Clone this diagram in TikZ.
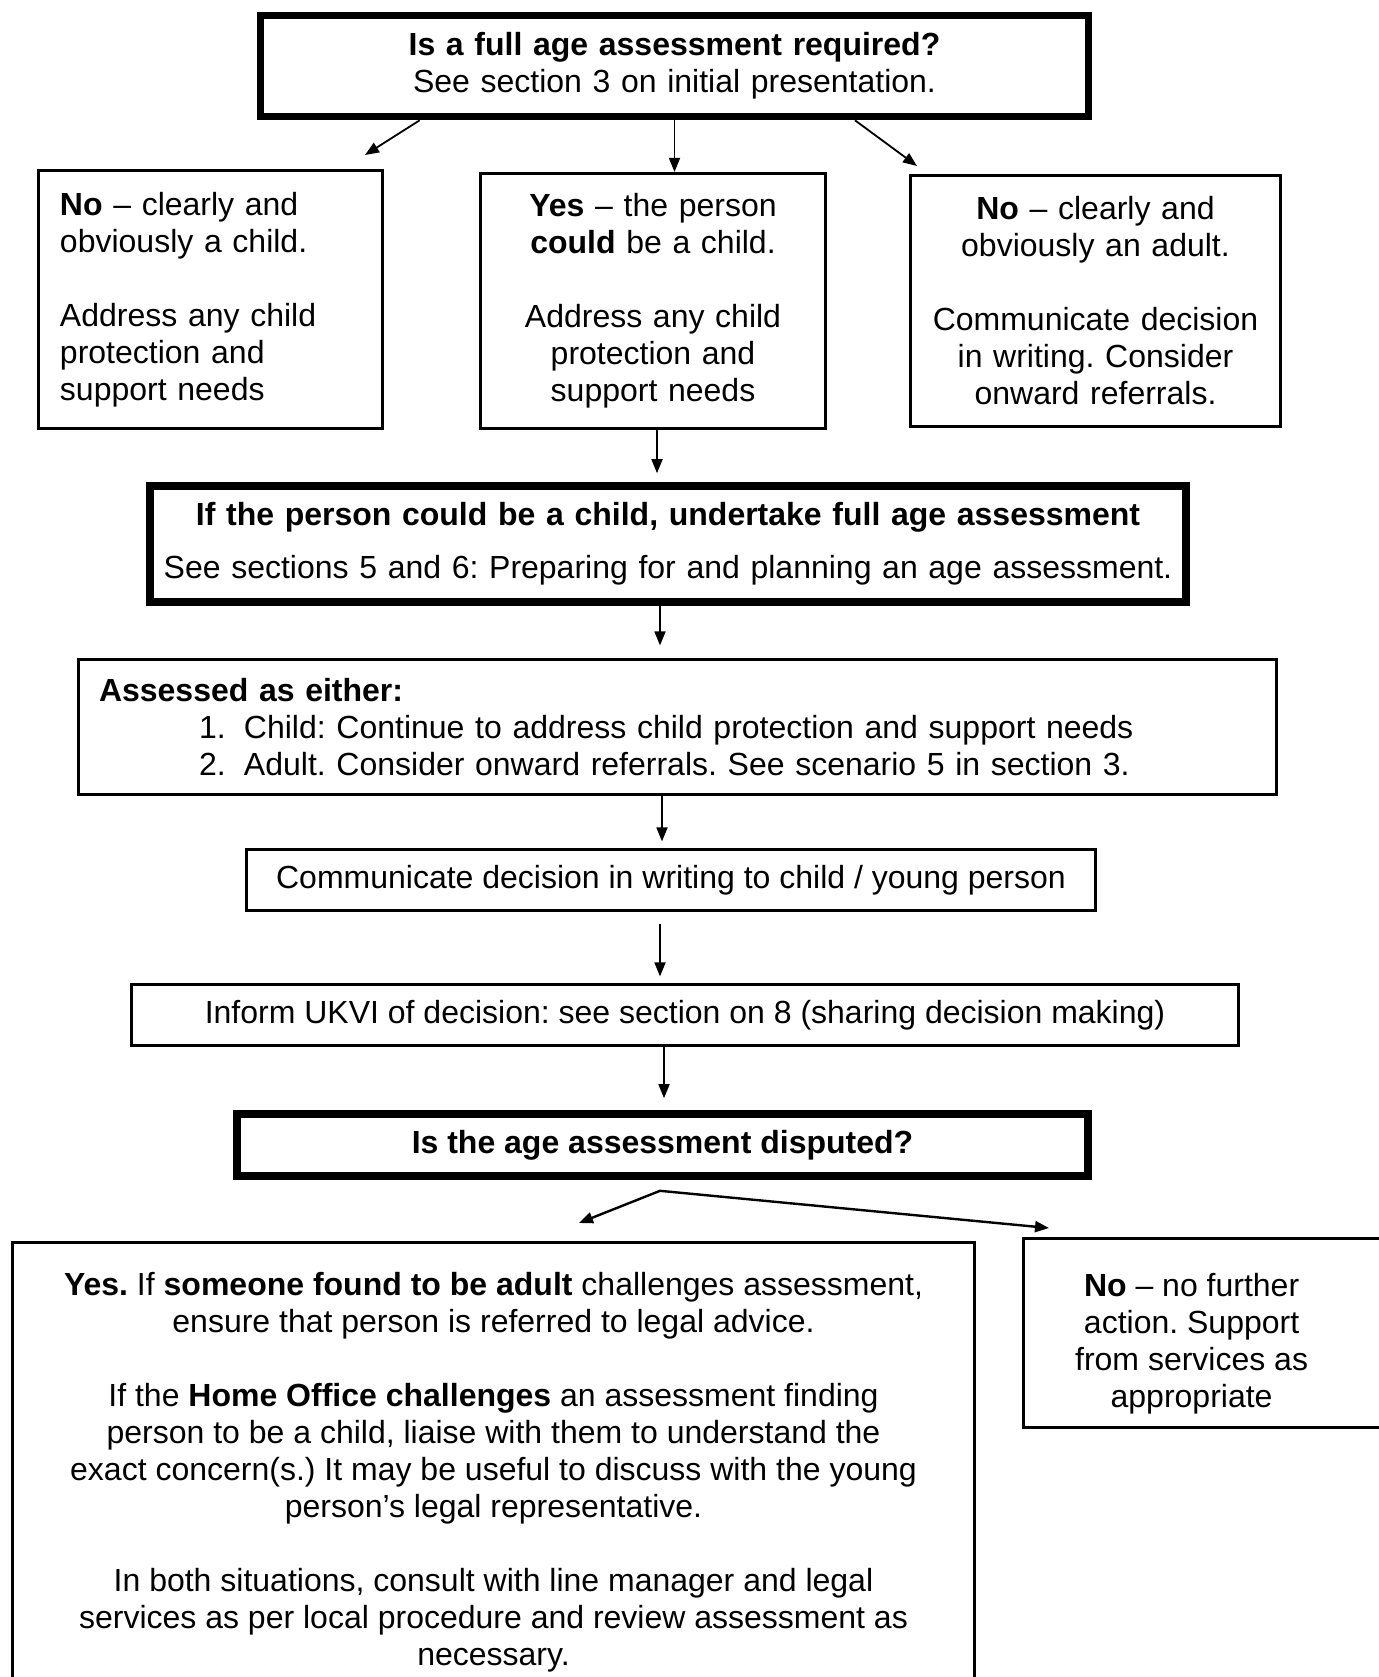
\documentclass[tikz,border=0pt]{standalone}
\usepackage{fontspec}
\setmainfont{Liberation Sans}
\usetikzlibrary{arrows.meta,calc}
\frenchspacing
\begin{document}
\begin{tikzpicture}[x=0.5pt,y=-0.5pt,
  boxthin/.style={draw, line width=1.6pt, inner sep=0pt, font=\fontsize{16pt}{18.5pt}\selectfont\frenchspacing},
  boxthick/.style={draw, line width=3.8pt, inner sep=0pt, font=\fontsize{16pt}{18.5pt}\selectfont\frenchspacing},
  arr/.style={line width=0.9pt, -{Triangle[length=7pt,width=5.5pt]}},
  forkline/.style={line width=1.2pt, {Triangle[length=7pt,width=5.5pt]}-{Triangle[length=7pt,width=5.5pt]}}
]
\useasboundingbox (0,0) rectangle (1379,1677);
\clip (0,0) rectangle (1379,1677);

% top question
\node[boxthick, minimum width=414pt, minimum height=50.5pt, text width=404pt, align=center] (t) at (674.5,66)
  {\textbf{Is a full age assessment required?}\\See section 3 on initial presentation.};

% three outcomes
\node[boxthin, minimum width=172pt, minimum height=129pt, text width=150.5pt, inner xsep=10.75pt, align=left] (n1) at (210.5,299.5)
  {\textbf{No} – clearly and\\obviously a child.\\[18.5pt]Address any child\\protection and\\support needs};
\node[boxthin, minimum width=172.5pt, minimum height=127.5pt, text width=162pt, inner xsep=5pt, align=center] (n2) at (653,301)
  {\textbf{Yes} – the person\\\textbf{could} be a child.\\[18.5pt]Address any child\\protection and\\support needs};
\node[boxthin, minimum width=185pt, minimum height=125.5pt, text width=175pt, inner xsep=5pt, align=center] (n3) at (1095.5,301)
  {\textbf{No} – clearly and\\obviously an adult.\\[18.5pt]Communicate decision\\in writing. Consider\\onward referrals.};

% full assessment
\node[boxthick, minimum width=518pt, minimum height=58pt, text width=508pt, align=center] (n4) at (668,544)
  {\textbf{If the person could be a child, undertake full age assessment}\\[8pt]See sections 5 and 6: Preparing for and planning an age assessment.};

\node[boxthin, minimum width=599pt, minimum height=67.5pt, text width=578.5pt, inner xsep=10.25pt, align=left] (n5) at (677.5,727)
  {\textbf{Assessed as either:}\\
   \hspace*{50pt}\makebox[22.5pt][l]{1.}Child: Continue to address child protection and support needs\\
   \hspace*{50pt}\makebox[22.5pt][l]{2.}Adult. Consider onward referrals. See scenario 5 in section 3.};

\node[boxthin, minimum width=424.5pt, minimum height=30.5pt] (n6) at (671,880)
  {Communicate decision in writing to child / young person};

\node[boxthin, minimum width=553.5pt, minimum height=30.5pt] (n7) at (685,1015)
  {Inform UKVI of decision: see section on 8 (sharing decision making)};

\node[boxthick, minimum width=425.5pt, minimum height=31pt] (n8) at (662.5,1145)
  {\textbf{Is the age assessment disputed?}};

% final outcomes
\node[boxthin, anchor=north, inner xsep=5pt, inner ysep=15pt] (n9) at (493.5,1240.5)
  {\parbox[t][230pt][t]{471pt}{\centering\frenchspacing
   \textbf{Yes.} If \textbf{someone found to be adult} challenges assessment,\\
   ensure that person is referred to legal advice.\\[18.5pt]
   If the \textbf{Home Office challenges} an assessment finding\\
   person to be a child, liaise with them to understand the\\
   exact concern(s.) It may be useful to discuss with the young\\
   person’s legal representative.\\[18.5pt]
   In both situations, consult with line manager and legal\\
   services as per local procedure and review assessment as\\
   necessary.}};

\node[boxthin, anchor=west, minimum height=94.5pt] (n10) at (1021.5,1333)
  {\hspace*{14.25pt}\parbox[c][94.5pt][c]{140pt}{\centering\frenchspacing\vspace*{11pt}
   \textbf{No} – no further\\action. Support\\from services as\\appropriate}\hspace*{60pt}};

% connectors
\coordinate (a1e) at (365,155);
\coordinate (a3e) at (917,166);
\draw[arr] ($(t.south west)!0.195!(t.south east)$) -- (a1e);
\draw[arr] (t.south) -- (t.south |- n2.north);
\draw[arr] ($(t.south west)!0.716!(t.south east)$) -- (a3e);

\draw[arr, shorten >=4.5pt] ($(n2.south)+(4,0)$) -- ($(n2.south |- n4.north)+(4,0)$);
\draw[arr, shorten >=6.25pt] ($(n4.south)+(-8,0)$) -- ($(n4.south |- n5.north)+(-8,0)$);
\draw[arr, shorten >=3.25pt] ($(n5.south)+(-15.5,0)$) -- ($(n5.south |- n6.north)+(-15.5,0)$);
\draw[arr, shorten <=6pt, shorten >=3.25pt] ($(n6.south)+(-11,0)$) -- ($(n6.south |- n7.north)+(-11,0)$);
\draw[arr, shorten >=6pt] ($(n7.south)+(-21,0)$) -- ($(n7.south |- n8.north)+(-21,0)$);

\coordinate (fk) at ($(n8.south)+(-2.5,11)$);
\coordinate (fl) at (579,1223);
\coordinate (fr) at (1049,1228);
\draw[forkline] (fl) -- (fk) -- (fr);
\end{tikzpicture}
\end{document}
